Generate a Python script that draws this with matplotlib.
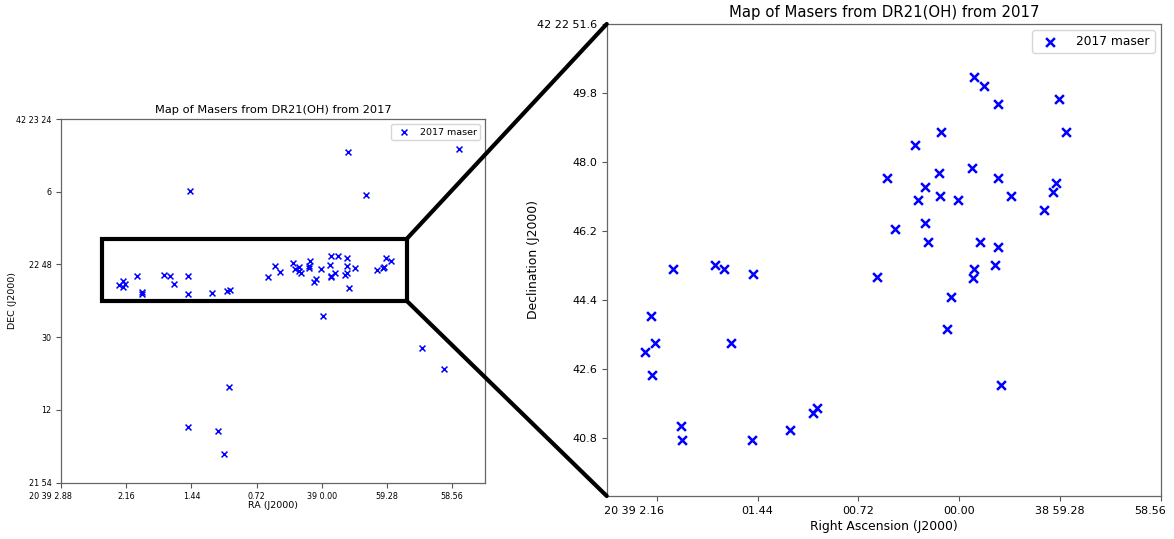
import numpy as np
import matplotlib.pyplot as plt
from matplotlib.patches import Rectangle, ConnectionPatch
from matplotlib.transforms import ScaledTranslation

# RA in seconds after 20h39m00s (negative = 20h38m..), Dec in arcsec after +42d22m00s
ra_sec = np.array([
    -0.105, -0.174, -0.279, -0.712, -0.764, 0.130, 0.316, 0.516, -0.093, -0.279,
    0.145, 0.247, 0.295, 0.138, 0.007, -0.369, -0.688, -0.671, -0.605, 0.461,
    0.247, 0.225, -0.150, -0.279, -0.253, -0.107, -0.100, 0.590, 0.059, 0.090,
    -0.300, 2.044, 1.746, 1.677, 1.475, 2.201, 2.172, 2.244, 2.196, 1.632,
    1.987, 1.982, 1.482, 1.208, 1.042, 1.018,
    1.455, -0.294, -1.517, -0.486, -0.018, -1.105, -1.348, 1.024, 1.474, 1.145, 1.076,
])
dec_arcsec = np.array([
    50.22, 49.98, 49.51, 49.64, 48.78, 48.78, 48.44, 47.57, 47.84, 47.57,
    47.71, 47.35, 47.00, 47.11, 47.00, 47.11, 47.46, 47.23, 46.75, 46.26,
    46.40, 45.91, 45.91, 45.79, 45.31, 45.20, 44.97, 44.99, 44.47, 43.64,
    42.18, 45.20, 45.31, 45.20, 45.08, 43.99, 43.29, 43.04, 42.44, 43.29,
    41.12, 40.74, 40.74, 41.00, 41.46, 41.59,
    66.2, 75.9, 76.65, 65.2, 35.25, 27.3, 22.1, 17.8, 7.7, 6.9, 1.1,
])

title = "Map of Masers from DR21(OH) from 2017"
series_label = "2017 maser"

# full map ticks
full_xticks = [2.88, 2.16, 1.44, 0.72, 0.0, -0.72, -1.44]
full_xlabels = ["20 39 2.88", "2.16", "1.44", "0.72", "39 0.00", "59.28", "58.56"]
full_yticks = [84, 66, 48, 30, 12, -6]
full_ylabels = ["42 23 24", "6", "22 48", "30", "12", "21 54"]

# zoomed map ticks
zoom_xticks = [2.16, 1.44, 0.72, 0.0, -0.72, -1.44]
zoom_xlabels = ["20 39 2.16", "01.44", "00.72", "00.00", "38 59.28", "58.56"]
zoom_yticks = [51.6, 49.8, 48.0, 46.2, 44.4, 42.6, 40.8]
zoom_ylabels = ["42 22 51.6", "49.8", "48.0", "46.2", "44.4", "42.6", "40.8"]

# region marked on the full map
box_ra = (2.43, -0.94)
box_dec = (38.96, 54.38)

fig = plt.figure(figsize=(11.74, 5.39), dpi=100)
ax1 = fig.add_axes([0.0520, 0.1045, 0.3612, 0.6747])
ax2 = fig.add_axes([0.5168, 0.0798, 0.4721, 0.8757])


def shift_label(lab, ha, px):
    lab.set_ha(ha)
    lab.set_transform(lab.get_transform() + ScaledTranslation(px / 100, 0, fig.dpi_scale_trans))


def style_axes(ax, xt, xl, yt, yl, tick_fs):
    ax.set_xticks(xt)
    ax.set_xticklabels(xl)
    ax.set_yticks(yt)
    ax.set_yticklabels(yl)
    ax.tick_params(labelsize=tick_fs, color='#555555', width=0.8)
    for s in ax.spines.values():
        s.set_color('#666666')
        s.set_linewidth(0.9)


# full map
ax1.scatter(ra_sec, dec_arcsec, marker='x', color='#0000ff', s=18, linewidths=1.1, label=series_label)
ax1.set_xlim(2.88, -1.804)
ax1.set_ylim(-6, 84)
style_axes(ax1, full_xticks, full_xlabels, full_yticks, full_ylabels, 5.8)
shift_label(ax1.get_xticklabels()[0], 'right', 11)
ax1.set_title(title, fontsize=8.2, pad=4)
ax1.set_xlabel("RA (J2000)", fontsize=6.8, labelpad=0)
ax1.set_ylabel("DEC (J2000)", fontsize=6.8)
ax1.yaxis.set_label_coords(-0.104, 0.5)
ax1.legend(loc='upper right', fontsize=6.8, handletextpad=0.6)

# zoomed map
ax2.scatter(ra_sec, dec_arcsec, marker='x', color='#0000ff', s=40, linewidths=1.8, label=series_label)
ax2.set_xlim(2.517, -1.44)
ax2.set_ylim(39.287, 51.6)
style_axes(ax2, zoom_xticks, zoom_xlabels, zoom_yticks, zoom_ylabels, 8)
shift_label(ax2.get_xticklabels()[0], 'right', 7)
shift_label(ax2.get_xticklabels()[-1], 'right', 5)
ax2.set_title(title, fontsize=10.7, pad=5)
ax2.set_xlabel("Right Ascension (J2000)", fontsize=8.9, labelpad=3)
ax2.set_ylabel("Declination (J2000)", fontsize=8.9)
ax2.yaxis.set_label_coords(-0.120, 0.5)
ax2.legend(loc='upper right', fontsize=8.8, handletextpad=1.2)

# zoom box and connectors
ax1.add_patch(Rectangle((box_ra[0], box_dec[0]), box_ra[1] - box_ra[0], box_dec[1] - box_dec[0],
                        fill=False, edgecolor='black', linewidth=3, zorder=5))
for yb, ya in [(box_dec[1], 1), (box_dec[0], 0)]:
    con = ConnectionPatch(xyA=(box_ra[1], yb), coordsA=ax1.transData,
                          xyB=(0, ya), coordsB=ax2.transAxes,
                          color='black', linewidth=3)
    fig.add_artist(con)

fig.savefig("out.png", dpi=100)
